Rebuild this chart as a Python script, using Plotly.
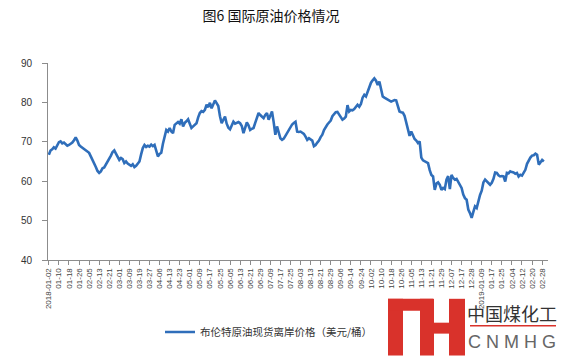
import plotly.graph_objects as go

title_text = "图6 国际原油价格情况"
series_name = "布伦特原油现货离岸价格（美元/桶）"

tick_labels = [
    "2018-01-02", "01-10", "01-18", "01-26", "02-05", "02-13", "02-21", "03-01", "03-09", "03-19",
    "03-27", "04-06", "04-13", "04-23", "05-01", "05-09", "05-17", "05-25", "06-05", "06-13",
    "06-21", "06-29", "07-09", "07-17", "07-25", "08-03", "08-13", "08-21", "08-29", "09-06",
    "09-14", "09-24", "10-02", "10-10", "10-18", "10-26", "11-05", "11-13", "11-21", "11-29",
    "12-07", "12-17", "12-28", "2019-01-09", "01-17", "01-25", "02-04", "02-12", "02-20", "02-28",
]
label_step = 6  # trading days between labels

brent = [
    66.7, 67.8, 68.1, 68.6, 68.3, 69.2, 69.9, 70.1, 69.6, 69.8,
    69.4, 69.0, 69.2, 69.5, 69.8, 70.4, 71.1, 70.3, 69.2, 68.8,
    68.5, 68.0, 67.9, 67.5, 67.2, 66.3, 65.5, 64.7, 63.6, 62.6,
    62.1, 62.5, 63.3, 63.5, 64.2, 64.8, 65.6, 66.5, 67.4, 67.8,
    67.0, 66.2, 65.4, 65.9, 65.6, 64.6, 65.0, 64.5, 64.2, 63.9,
    64.3, 63.6, 63.9, 64.5, 65.0, 66.8, 68.4, 69.2, 68.7, 69.0,
    68.8, 69.3, 68.9, 69.2, 67.8, 66.3, 66.9, 67.2, 69.5, 71.6,
    73.0, 72.6, 73.5, 72.6, 72.2, 74.3, 74.7, 75.0, 74.6, 75.7,
    73.9, 74.8, 75.2, 75.7, 74.6, 73.5, 73.9, 74.3, 74.7, 76.2,
    77.3, 77.8, 77.6, 78.1, 79.4, 78.8, 79.9, 78.5, 79.4, 80.5,
    79.8, 79.1, 76.5, 74.7, 75.6, 76.4, 74.6, 73.6, 73.2, 74.3,
    75.1, 74.6, 74.9, 75.0, 74.7, 74.0, 72.2, 73.8, 74.9, 74.2,
    73.0, 73.3, 73.5, 74.8, 76.4, 77.3, 76.8, 76.3, 76.0, 76.8,
    77.3, 75.6, 76.5, 77.7, 75.0, 71.8, 73.9, 72.0, 70.9, 70.5,
    70.8, 71.5, 72.3, 73.0, 73.9, 74.4, 74.8, 75.1, 72.6, 72.5,
    72.6, 72.4, 72.0, 71.3, 70.5, 70.9, 70.7, 70.3, 68.9, 69.2,
    69.8, 70.3, 71.2, 71.8, 73.0, 73.8, 74.4, 74.9, 75.4, 76.5,
    77.1, 77.5, 77.6, 76.9, 76.2, 75.6, 75.9, 76.4, 79.3, 77.7,
    78.1, 78.0, 78.3, 79.0, 79.4, 78.9, 79.6, 81.2, 81.9, 81.5,
    82.7, 84.3, 85.0, 85.6, 86.1, 85.5, 84.4, 85.3, 83.5, 81.5,
    81.2, 80.9, 80.8, 80.4, 80.2, 80.4, 80.6, 80.5, 79.0, 77.7,
    77.5, 77.4, 76.6, 75.1, 73.2, 71.5, 72.6, 71.4, 70.7, 70.3,
    69.7, 70.1, 66.0, 65.3, 65.0, 64.8, 64.6, 62.8, 61.6, 61.2,
    57.8, 59.4, 59.7, 59.1, 57.8, 58.3, 58.0, 60.4, 61.3, 58.0,
    61.6, 60.8, 60.4, 60.6, 59.9, 59.2, 58.3, 56.6, 55.7, 55.3,
    52.8, 51.9, 50.7, 52.2, 53.6, 53.2, 55.3, 56.5, 57.6, 59.7,
    60.4, 60.0, 59.6, 59.1, 59.6, 60.6, 62.2, 62.1, 61.5, 61.2,
    61.3, 61.2, 59.9, 62.1, 62.0, 62.5, 62.3, 62.2, 61.9, 62.1,
    61.2, 61.6, 61.4, 62.3, 62.9, 64.4, 65.4, 66.0, 66.5, 66.6,
    67.0, 66.7, 64.2, 64.8, 65.4, 65.0,
]

y_ticks = [40, 50, 60, 70, 80, 90]

x_idx = list(range(len(brent)))
tick_pos = [i * label_step for i in range(len(tick_labels))]

# plot area in pixels (for placing the watermark)
L, R, T, B = 48, 13, 63, 96
W, H = 561, 357
pw, ph = W - L - R, H - T - B


def px(x):
    return (x - L) / pw


def py(y):
    return (H - B - y) / ph


fig = go.Figure()
fig.add_trace(go.Scatter(
    x=x_idx, y=brent, mode="lines", name=series_name,
    line=dict(color="#2F6EBA", width=2.6),
))

CJK = "Noto Sans CJK SC, Liberation Sans, sans-serif"

fig.update_layout(
    width=W, height=H,
    margin=dict(l=L, r=R, t=T, b=B),
    paper_bgcolor="white", plot_bgcolor="white",
    title=dict(text=title_text, x=271 / W, xanchor="center", y=1 - 16 / H, yanchor="middle",
               font=dict(family=CJK, size=14, color="#111")),
    showlegend=True,
    legend=dict(orientation="h", x=px(160), y=py(332), xanchor="left", yanchor="middle",
                font=dict(family=CJK, size=10.5, color="#333"), itemwidth=30,
                bgcolor="rgba(0,0,0,0)"),
    xaxis=dict(
        range=[-0.5, len(brent) + 1.5], tickmode="array", tickvals=tick_pos, ticktext=tick_labels,
        tickangle=-90, tickfont=dict(family="Liberation Sans, Arial", size=8, color="#444"),
        showgrid=False, zeroline=False, showline=True, linecolor="#8c8c8c", linewidth=1,
        ticks="outside", ticklen=4, tickcolor="#8c8c8c",
    ),
    yaxis=dict(
        range=[40, 90], tickvals=y_ticks, tickfont=dict(family="Liberation Sans, Arial", size=10, color="#333"),
        showgrid=False, zeroline=False, showline=True, linecolor="#8c8c8c", linewidth=1,
        ticks="outside", ticklen=5, tickcolor="#8c8c8c", ticklabelstandoff=8,
    ),
)

# watermark logo (bottom-right)
red = "#D9322B"
rects = [
    (388, 300, 403, 357),
    (388, 300, 433, 312),
    (420, 300, 434, 357),
    (434, 324, 449, 335),
    (449, 300, 465, 357),
]
for x0, y0, x1, y1 in rects:
    fig.add_shape(type="rect", xref="paper", yref="paper", x0=px(x0), x1=px(x1), y0=py(y1), y1=py(y0),
                  fillcolor=red, line=dict(width=0), layer="above")
fig.add_shape(type="line", xref="paper", yref="paper", x0=px(470), x1=px(556), y0=py(327), y1=py(327),
              line=dict(color=red, width=1.5))
fig.add_annotation(text="中国煤化工", xref="paper", yref="paper", x=px(512), y=py(314), showarrow=False,
                   font=dict(family=CJK, size=18, color="#333"), xanchor="center", yanchor="middle")
fig.add_annotation(text="C N M H G", xref="paper", yref="paper", x=px(512), y=py(343), showarrow=False,
                   font=dict(family="Liberation Sans, Arial", size=18, color="#666"), xanchor="center",
                   yanchor="middle")

fig.write_html("out.html")
